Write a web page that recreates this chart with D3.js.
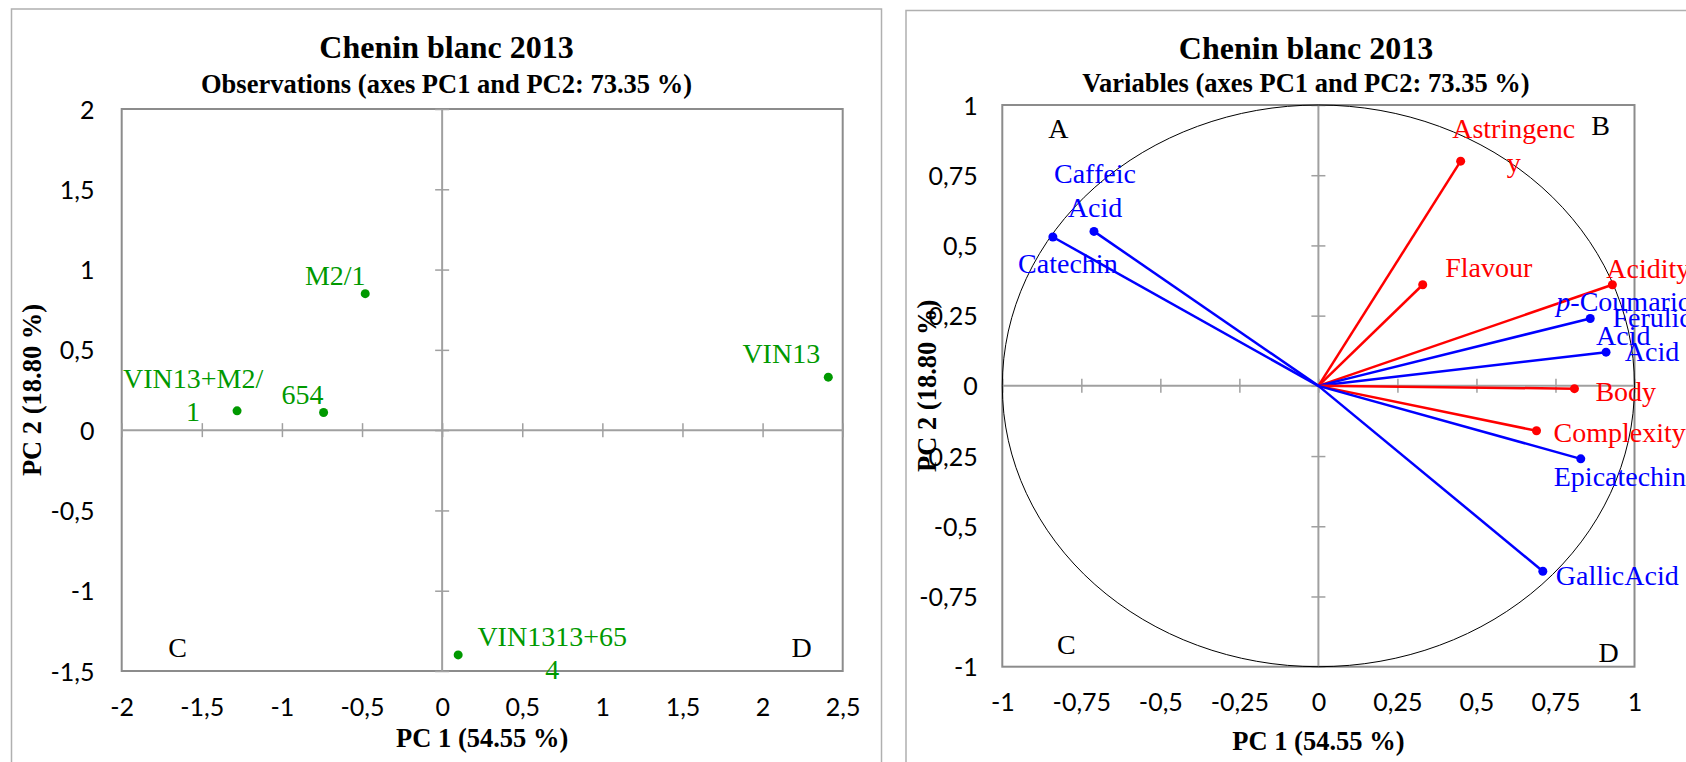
<!DOCTYPE html>
<html>
<head>
<meta charset="utf-8">
<script src="https://cdn.jsdelivr.net/npm/d3@7"></script>
<style>
body { margin: 0; background: #fff; overflow: hidden; }
svg { display: block; }
</style>
</head>
<body>
<svg id="chart" width="1686" height="762"></svg>
<script>

// observations (PC scores)
var obs_names = ["M2/1", "VIN13+M2/1", "654", "VIN13", "VIN1313+654"];
var obs_pc1 = [-0.48, -1.28, -0.74, 2.41, 0.10];
var obs_pc2 = [0.85, 0.12, 0.11, 0.33, -1.40];
// excel wrapped some of the labels
var obs_lines = [["M2/1"], ["VIN13+M2/", "1"], ["654"], ["VIN13"], ["VIN1313+65", "4"]];

// variables (loadings), sensory attributes red, phenolics blue
var var_names = ["Astringency", "Flavour", "Acidity", "p-Coumaric Acid", "Ferulic Acid", "Body",
                 "Complexity", "Epicatechin", "GallicAcid", "Caffeic Acid", "Catechin"];
var var_type = ["sensory", "sensory", "sensory", "phenolic", "phenolic", "sensory",
                "sensory", "phenolic", "phenolic", "phenolic", "phenolic"];
var var_pc1 = [0.45, 0.33, 0.93, 0.86, 0.91, 0.81, 0.69, 0.83, 0.71, -0.71, -0.84];
var var_pc2 = [0.80, 0.36, 0.36, 0.24, 0.12, -0.01, -0.16, -0.26, -0.66, 0.55, 0.53];
var var_lines = [["Astringenc", "y"], ["Flavour"], ["Acidity"], ["p-Coumaric", "Acid"], ["Ferulic", "Acid"], ["Body"],
                 ["Complexity"], ["Epicatechin"], ["GallicAcid"], ["Caffeic", "Acid"], ["Catechin"]];

// tick values
var obs_x_ticks = [-2, -1.5, -1, -0.5, 0, 0.5, 1, 1.5, 2, 2.5];
var obs_y_ticks = [-1.5, -1, -0.5, 0, 0.5, 1, 1.5, 2];
var var_ticks = [-1, -0.75, -0.5, -0.25, 0, 0.25, 0.5, 0.75, 1];

var chart_title = "Chenin blanc 2013";
var obs_subtitle = "Observations (axes PC1 and PC2: 73.35 %)";
var var_subtitle = "Variables (axes PC1 and PC2: 73.35 %)";
var x_title = "PC 1 (54.55 %)";
var y_title = "PC 2 (18.80 %)";

// label placement (pixels from the marker: dx, dy of first baseline, anchor)
var obs_label_pos = [[-30, -9, "middle"], [-44, -23, "middle"], [-21, -8, "middle"], [-47, -14, "middle"], [94, -9, "middle"]];
var var_label_pos = [[53, -23, "middle"], [66, -8, "middle"], [-6, -7, "start"], [33, -7, "middle"], [46, -25, "middle"],
                     [21, 12, "start"], [17, 11, "start"], [-27, 27, "start"], [13, 14, "start"], [1, -48, "middle"], [15, 36, "middle"]];

// quadrant letters: letter, corner, dx, dy
var obs_letters = [["C", "bl", 56, -14], ["D", "br", -41, -14]];
var var_letters = [["A", "tl", 56, 33], ["B", "tr", -34, 30], ["C", "bl", 64, -13], ["D", "br", -26, -5]];

var colours = {"obs": "#009900", "sensory": "#ff0000", "phenolic": "#0000ff"};
var serif = "'Liberation Serif', 'Times New Roman', serif";
var sans = "Lato, 'Open Sans', sans-serif";
var tick_size = 25;
var label_size = 28;
var line_height = 33.5;

var svg = d3.select("#chart");
var comma = d => String(d).replace(".", ",");

function pca_panel() {

    var frame = [],
        plot = {},
        x_domain = [],
        y_domain = [],
        x_ticks = [],
        y_ticks = [],
        subtitle = "",
        title_y = [],
        label_x = 0,
        x_label_y = 0,
        x_title_y = 0,
        y_title_x = 0,
        letters = [],
        x, y;

    function my(g) {

        x = d3.scaleLinear().domain(x_domain).range([plot.left, plot.right]);
        y = d3.scaleLinear().domain(y_domain).range([plot.bottom, plot.top]);

        //outer chart border
        g.append("rect")
            .attr("x", frame[0]).attr("y", frame[1])
            .attr("width", frame[2]).attr("height", frame[3])
            .attr("fill", "none")
            .attr("stroke", "#b0b0b0")
            .attr("stroke-width", 1.5);

        var frame_mid = frame[0] + frame[2] / 2;
        g.append("text")
            .attr("x", frame_mid).attr("y", title_y[0])
            .attr("text-anchor", "middle")
            .style("font-family", serif).style("font-size", "32px").style("font-weight", "bold")
            .text(chart_title);

        g.append("text")
            .attr("x", frame_mid).attr("y", title_y[1])
            .attr("text-anchor", "middle")
            .style("font-family", serif).style("font-size", "26.5px").style("font-weight", "bold")
            .text(subtitle);

        //plot area border
        g.append("rect")
            .attr("x", plot.left).attr("y", plot.top)
            .attr("width", plot.right - plot.left).attr("height", plot.bottom - plot.top)
            .attr("fill", "none")
            .attr("stroke", "#8c8c8c")
            .attr("stroke-width", 2);

        //zero lines
        g.append("line")
            .attr("x1", plot.left).attr("x2", plot.right)
            .attr("y1", y(0)).attr("y2", y(0))
            .attr("stroke", "#a0a0a0").attr("stroke-width", 2);
        g.append("line")
            .attr("x1", x(0)).attr("x2", x(0))
            .attr("y1", plot.top).attr("y2", plot.bottom)
            .attr("stroke", "#a0a0a0").attr("stroke-width", 2);

        //cross ticks sitting on the zero lines
        var x_cross = g.append("g")
            .attr("transform", "translate(0," + (y(0) - 7) + ")")
            .call(d3.axisBottom(x).tickValues(x_ticks).tickSize(14).tickSizeOuter(0).tickFormat(""));
        var y_cross = g.append("g")
            .attr("transform", "translate(" + (x(0) - 7) + ",0)")
            .call(d3.axisRight(y).tickValues(y_ticks).tickSize(14).tickSizeOuter(0).tickFormat(""));
        [x_cross, y_cross].forEach(function(a) {
            a.select(".domain").remove();
            a.selectAll("line").attr("stroke", "#a0a0a0").attr("stroke-width", 1.5);
        });

        //tick labels on the low side of the plot
        var y_axis = g.append("g")
            .attr("transform", "translate(" + plot.left + ",0)")
            .call(d3.axisLeft(y).tickValues(y_ticks).tickSize(0).tickPadding(plot.left - label_x).tickFormat(comma));
        var x_axis = g.append("g")
            .attr("transform", "translate(0," + plot.bottom + ")")
            .call(d3.axisBottom(x).tickValues(x_ticks).tickSize(0).tickPadding(x_label_y - plot.bottom).tickFormat(comma));
        [x_axis, y_axis].forEach(function(a) {
            a.select(".domain").remove();
            a.attr("font-size", tick_size).attr("font-family", sans);
            a.selectAll("text")
                .attr("fill", "#000")
                .attr("font-size", tick_size)
                .style("font-family", sans)
                .style("font-size", tick_size + "px");
        });
        y_axis.selectAll("text").attr("dy", "0.36em");
        x_axis.selectAll("text").attr("dy", "0em");

        //axis titles
        g.append("text")
            .attr("x", (plot.left + plot.right) / 2).attr("y", x_title_y)
            .attr("text-anchor", "middle")
            .style("font-family", serif).style("font-size", "26.5px").style("font-weight", "bold")
            .text(x_title);

        g.append("text")
            .attr("transform", "translate(" + y_title_x + "," + ((plot.top + plot.bottom) / 2) + ") rotate(-90)")
            .attr("text-anchor", "middle")
            .style("font-family", serif).style("font-size", "26.5px").style("font-weight", "bold")
            .text(y_title);

        //quadrant letters
        g.selectAll(".quad_letter")
            .data(letters)
            .join("text")
            .attr("class", "quad_letter")
            .attr("x", d => (d[1][1] === "l" ? plot.left : plot.right) + d[2])
            .attr("y", d => (d[1][0] === "t" ? plot.top : plot.bottom) + d[3])
            .attr("text-anchor", "middle")
            .style("font-family", serif).style("font-size", "28px")
            .text(d => d[0]);
    }

    my.x = function() { return x; };
    my.y = function() { return y; };

    my.frame = function(value) { frame = value; return my; };
    my.plot = function(value) { plot = value; return my; };
    my.x_domain = function(value) { x_domain = value; return my; };
    my.y_domain = function(value) { y_domain = value; return my; };
    my.x_ticks = function(value) { x_ticks = value; return my; };
    my.y_ticks = function(value) { y_ticks = value; return my; };
    my.subtitle = function(value) { subtitle = value; return my; };
    my.title_y = function(value) { title_y = value; return my; };
    my.label_x = function(value) { label_x = value; return my; };
    my.x_label_y = function(value) { x_label_y = value; return my; };
    my.x_title_y = function(value) { x_title_y = value; return my; };
    my.y_title_x = function(value) { y_title_x = value; return my; };
    my.letters = function(value) { letters = value; return my; };

    return my;
}

//wrapped point labels, one text per line (p of p-Coumaric in italics)
function draw_labels(g, rows) {
    rows.forEach(function(r) {
        r.lines.forEach(function(line, i) {
            var t = g.append("text")
                .attr("x", r.x + r.pos[0])
                .attr("y", r.y + r.pos[1] + i * line_height)
                .attr("text-anchor", r.pos[2])
                .attr("fill", r.colour)
                .style("font-family", serif)
                .style("font-size", label_size + "px");
            if (line.indexOf("p-") === 0) {
                t.append("tspan").style("font-style", "italic").text("p");
                t.append("tspan").text(line.slice(1));
            } else {
                t.text(line);
            }
        });
    });
}

//left panel: observations
var obs_g = svg.append("g");
var obs_panel = pca_panel()
    .frame([11.5, 9, 870, 800])
    .plot({left: 121.7, right: 842.7, top: 109, bottom: 671})
    .x_domain([-2, 2.5]).y_domain([-1.5, 2])
    .x_ticks(obs_x_ticks).y_ticks(obs_y_ticks)
    .subtitle(obs_subtitle)
    .title_y([58, 93])
    .label_x(94.5).x_label_y(716)
    .x_title_y(747).y_title_x(41)
    .letters(obs_letters);
obs_g.call(obs_panel);

var ox = obs_panel.x(), oy = obs_panel.y();

obs_g.selectAll(".obs_dot")
    .data(obs_names)
    .join("circle")
    .attr("class", "obs_dot")
    .attr("cx", (d, i) => ox(obs_pc1[i]))
    .attr("cy", (d, i) => oy(obs_pc2[i]))
    .attr("r", 4.5)
    .attr("fill", colours.obs);

draw_labels(obs_g, obs_names.map((d, i) => ({
    x: ox(obs_pc1[i]), y: oy(obs_pc2[i]), lines: obs_lines[i], pos: obs_label_pos[i], colour: colours.obs
})));

//right panel: variables on the correlation circle
var var_g = svg.append("g");
var var_panel = pca_panel()
    .frame([906, 10.5, 800, 800])
    .plot({left: 1002.3, right: 1634.5, top: 105, bottom: 666.7})
    .x_domain([-1, 1]).y_domain([-1, 1])
    .x_ticks(var_ticks).y_ticks(var_ticks)
    .subtitle(var_subtitle)
    .title_y([59, 92])
    .label_x(977.7).x_label_y(711)
    .x_title_y(750).y_title_x(935.5)
    .letters(var_letters);
var_g.call(var_panel);

var vx = var_panel.x(), vy = var_panel.y();

var_g.append("ellipse")
    .attr("cx", vx(0)).attr("cy", vy(0))
    .attr("rx", vx(1) - vx(0)).attr("ry", vy(0) - vy(1))
    .attr("fill", "none")
    .attr("stroke", "#000")
    .attr("stroke-width", 1);

var_g.selectAll(".var_line")
    .data(var_names)
    .join("line")
    .attr("class", "var_line")
    .attr("x1", vx(0)).attr("y1", vy(0))
    .attr("x2", (d, i) => vx(var_pc1[i]))
    .attr("y2", (d, i) => vy(var_pc2[i]))
    .attr("stroke", (d, i) => colours[var_type[i]])
    .attr("stroke-width", 2.5);

var_g.selectAll(".var_dot")
    .data(var_names)
    .join("circle")
    .attr("class", "var_dot")
    .attr("cx", (d, i) => vx(var_pc1[i]))
    .attr("cy", (d, i) => vy(var_pc2[i]))
    .attr("r", 4.5)
    .attr("fill", (d, i) => colours[var_type[i]]);

draw_labels(var_g, var_names.map((d, i) => ({
    x: vx(var_pc1[i]), y: vy(var_pc2[i]), lines: var_lines[i], pos: var_label_pos[i], colour: colours[var_type[i]]
})));

</script>
</body>
</html>
